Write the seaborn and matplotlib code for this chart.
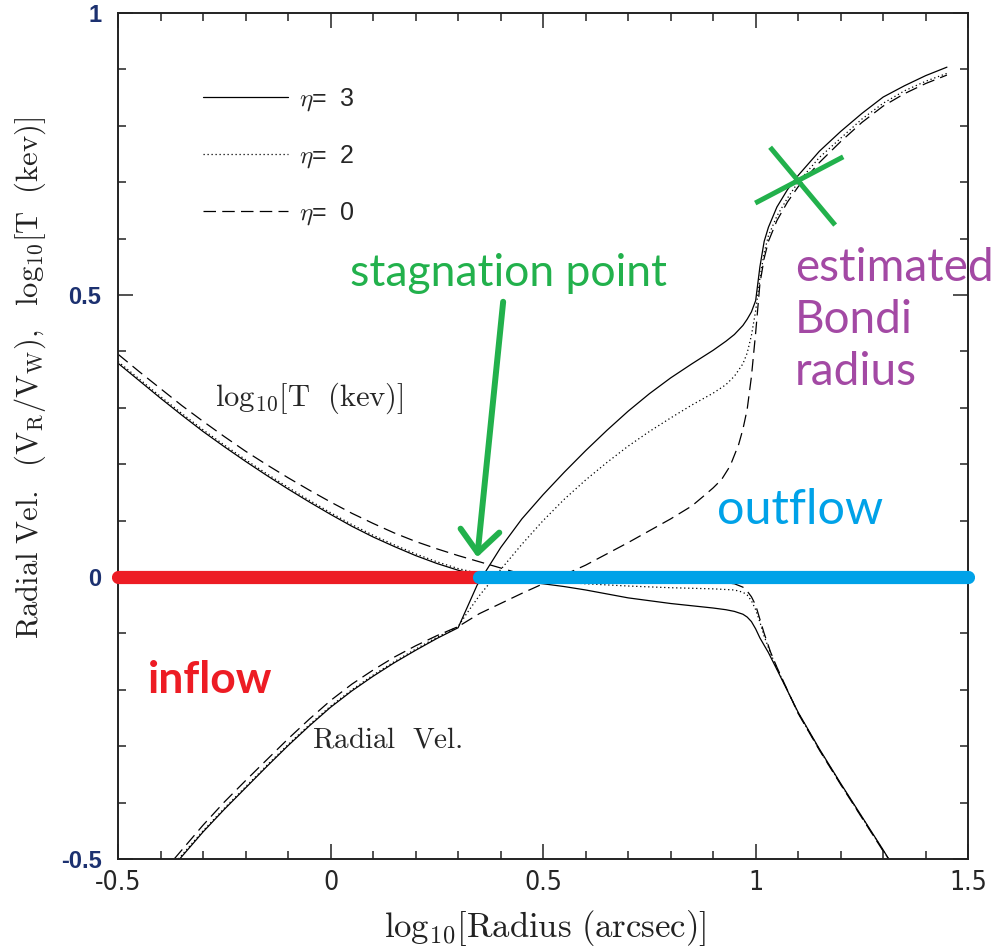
import matplotlib
matplotlib.use("Agg")
import matplotlib.pyplot as plt
import seaborn as sns

# ================= DATA =================
# log10 T curves
t_x_eta3 = [-0.5, -0.45, -0.4, -0.35, -0.3, -0.25, -0.2, -0.15, -0.1, -0.05, 0.0, 0.05, 0.1, 0.15, 0.2, 0.25, 0.3, 0.35, 0.4, 0.45, 0.5,
            0.55, 0.6, 0.65, 0.7, 0.75, 0.8, 0.85, 0.9, 0.93, 0.95, 0.97, 0.98, 0.99, 1.0, 1.01, 1.03, 1.05, 1.1, 1.15, 1.2, 1.25, 1.3, 1.313]
t_y_eta3 = [0.379, 0.348, 0.317, 0.287, 0.258, 0.231, 0.205, 0.180, 0.156, 0.133, 0.111, 0.090, 0.071, 0.054, 0.038, 0.024, 0.012, 0.003, -0.003, -0.008, -0.012,
            -0.017, -0.023, -0.030, -0.037, -0.042, -0.047, -0.051, -0.055, -0.058, -0.061, -0.066, -0.071, -0.079, -0.092, -0.108, -0.134, -0.164, -0.240, -0.305, -0.366, -0.425, -0.484, -0.50]

t_x_eta2 = [-0.5, -0.45, -0.4, -0.35, -0.3, -0.25, -0.2, -0.15, -0.1, -0.05, 0.0, 0.05, 0.1, 0.15, 0.2, 0.25, 0.3, 0.35, 0.4, 0.45, 0.5,
            0.6, 0.7, 0.8, 0.9, 0.95, 0.97, 0.98, 0.99, 1.0, 1.01, 1.02, 1.035, 1.05, 1.1, 1.15, 1.2, 1.25, 1.3, 1.313]
t_y_eta2 = [0.382, 0.351, 0.320, 0.290, 0.261, 0.234, 0.208, 0.183, 0.159, 0.136, 0.114, 0.093, 0.074, 0.057, 0.041, 0.027, 0.015, 0.006, 0.0, -0.004, -0.007,
            -0.012, -0.016, -0.019, -0.021, -0.023, -0.027, -0.032, -0.042, -0.058, -0.080, -0.105, -0.135, -0.162, -0.241, -0.306, -0.367, -0.426, -0.485, -0.50]

t_x_eta0 = [-0.5, -0.45, -0.4, -0.35, -0.3, -0.25, -0.2, -0.15, -0.1, -0.05, 0.0, 0.05, 0.1, 0.15, 0.2, 0.25, 0.3, 0.35, 0.4, 0.45, 0.5,
            0.55, 0.7, 0.9, 0.95, 0.97, 0.98, 0.99, 1.0, 1.01, 1.02, 1.035, 1.05, 1.1, 1.15, 1.2, 1.25, 1.3, 1.313]
t_y_eta0 = [0.395, 0.364, 0.334, 0.304, 0.276, 0.249, 0.223, 0.199, 0.176, 0.154, 0.133, 0.113, 0.095, 0.078, 0.063, 0.050, 0.038, 0.027, 0.016, 0.005, -0.004,
            -0.007, -0.007, -0.008, -0.012, -0.018, -0.025, -0.035, -0.050, -0.075, -0.100, -0.133, -0.160, -0.242, -0.307, -0.368, -0.427, -0.486, -0.50]

# radial velocity curves
v_x_eta3 = [-0.355, -0.3, -0.25, -0.2, -0.15, -0.1, -0.05, 0.0, 0.05, 0.1, 0.15, 0.2, 0.25, 0.3, 0.345, 0.37, 0.4, 0.45, 0.5, 0.55, 0.6, 0.65,
            0.7, 0.75, 0.8, 0.85, 0.9, 0.93, 0.95, 0.97, 0.98, 0.99, 1.0, 1.005, 1.01, 1.02, 1.03, 1.05, 1.075, 1.1, 1.15, 1.2, 1.25, 1.3, 1.35, 1.4, 1.45]
v_y_eta3 = [-0.5, -0.452, -0.412, -0.374, -0.336, -0.299, -0.264, -0.231, -0.202, -0.176, -0.152, -0.130, -0.109, -0.090, -0.014, 0.016, 0.052, 0.103, 0.146, 0.186, 0.224, 0.260,
            0.294, 0.325, 0.353, 0.378, 0.402, 0.418, 0.430, 0.446, 0.457, 0.470, 0.490, 0.520, 0.550, 0.595, 0.620, 0.656, 0.687, 0.712, 0.755, 0.790, 0.822, 0.851, 0.871, 0.889, 0.904]

v_x_eta2 = [-0.358, -0.3, -0.25, -0.2, -0.15, -0.1, -0.05, 0.0, 0.05, 0.1, 0.15, 0.2, 0.25, 0.3, 0.32, 0.35, 0.4, 0.45, 0.5, 0.55, 0.6, 0.65,
            0.7, 0.75, 0.8, 0.85, 0.9, 0.93, 0.95, 0.97, 0.98, 0.99, 1.0, 1.01, 1.02, 1.03, 1.05, 1.075, 1.1, 1.15, 1.2, 1.25, 1.3, 1.35, 1.4, 1.45]
v_y_eta2 = [-0.5, -0.450, -0.410, -0.372, -0.334, -0.297, -0.262, -0.229, -0.200, -0.174, -0.150, -0.128, -0.107, -0.088, -0.065, -0.033, 0.013, 0.058, 0.100, 0.138, 0.172, 0.203,
            0.232, 0.258, 0.282, 0.305, 0.326, 0.341, 0.356, 0.378, 0.397, 0.428, 0.472, 0.530, 0.575, 0.605, 0.640, 0.672, 0.700, 0.744, 0.778, 0.812, 0.840, 0.862, 0.879, 0.893]

v_x_eta0 = [-0.368, -0.3, -0.25, -0.2, -0.15, -0.1, -0.05, 0.0, 0.05, 0.1, 0.15, 0.2, 0.25, 0.3, 0.35, 0.4, 0.45, 0.5, 0.55, 0.6, 0.65, 0.7, 0.75,
            0.8, 0.85, 0.88, 0.9, 0.92, 0.94, 0.96, 0.97, 0.98, 0.99, 1.0, 1.01, 1.02, 1.03, 1.05, 1.075, 1.1, 1.15, 1.2, 1.25, 1.3, 1.35, 1.4, 1.45]
v_y_eta0 = [-0.5, -0.440, -0.399, -0.361, -0.324, -0.287, -0.252, -0.219, -0.190, -0.165, -0.142, -0.122, -0.104, -0.088, -0.065, -0.047, -0.029, -0.012, 0.004, 0.021, 0.041, 0.061, 0.082,
            0.103, 0.126, 0.145, 0.158, 0.173, 0.197, 0.235, 0.262, 0.297, 0.355, 0.433, 0.520, 0.565, 0.595, 0.632, 0.665, 0.692, 0.735, 0.772, 0.806, 0.835, 0.857, 0.875, 0.890]

# inflow / outflow segments along zero velocity
inflow_x = [-0.5, 0.35]
outflow_x = [0.35, 1.5]
zero_y = [0.0, 0.0]

xticks = [-0.5, 0.0, 0.5, 1.0, 1.5]
xtick_labels = ["-0.5", "0", "0.5", "1", "1.5"]
yticks = [-0.5, 0.0, 0.5, 1.0]
ytick_labels = ["-0.5", "0", "0.5", "1"]
legend_labels = [r"$\eta$=  3", r"$\eta$=  2", r"$\eta$=  0"]

# ================= STYLE =================
sns.set_style("ticks")
plt.rcParams["font.family"] = ["Liberation Sans", "DejaVu Sans"]
plt.rcParams["mathtext.fontset"] = "cm"

GREEN = "#22b14c"
PURPLE = "#a349a4"
RED = "#ed1c24"
BLUE = "#00a2e8"
NAVY = "#1c3170"
styles = {"eta3": "-", "eta2": (0, (1, 2.2)), "eta0": (0, (10, 5))}

fig = plt.figure(figsize=(9.92, 9.5), dpi=100)
ax = fig.add_axes([0.119, 0.0958, 0.857, 0.8905])

# ================= CURVES =================
lw = 0.9
sns.lineplot(x=v_x_eta3, y=v_y_eta3, ax=ax, color="k", lw=lw, linestyle=styles["eta3"], estimator=None, sort=False)
sns.lineplot(x=v_x_eta2, y=v_y_eta2, ax=ax, color="k", lw=lw, linestyle=styles["eta2"], estimator=None, sort=False)
sns.lineplot(x=v_x_eta0, y=v_y_eta0, ax=ax, color="k", lw=lw, linestyle=styles["eta0"], estimator=None, sort=False)
sns.lineplot(x=t_x_eta3, y=t_y_eta3, ax=ax, color="k", lw=lw, linestyle=styles["eta3"], estimator=None, sort=False)
sns.lineplot(x=t_x_eta2, y=t_y_eta2, ax=ax, color="k", lw=lw, linestyle=styles["eta2"], estimator=None, sort=False)
sns.lineplot(x=t_x_eta0, y=t_y_eta0, ax=ax, color="k", lw=lw, linestyle=styles["eta0"], estimator=None, sort=False)
handles = ax.get_lines()[:3]

# inflow / outflow bars
sns.lineplot(x=inflow_x, y=zero_y, ax=ax, color=RED, lw=9.5, solid_capstyle="round", clip_on=False, zorder=5)
sns.lineplot(x=outflow_x, y=zero_y, ax=ax, color=BLUE, lw=9.5, solid_capstyle="round", clip_on=False, zorder=6)

# ================= AXES =================
ax.set_xlim(-0.5, 1.5)
ax.set_ylim(-0.5, 1.0)
ax.set_xticks(xticks)
ax.set_xticklabels(xtick_labels, family="DejaVu Sans", fontstretch="condensed", fontsize=19)
ax.set_yticks(yticks)
ax.set_yticklabels(ytick_labels, fontsize=17, fontweight="bold", color=NAVY)
ax.set_xticks([v / 10 for v in range(-5, 16)], minor=True)
ax.set_yticks([v / 10 for v in range(-5, 11)], minor=True)
ax.tick_params(which="both", direction="in", top=True, right=True, width=1.1, color="#222222")
ax.tick_params(which="major", length=11)
ax.tick_params(which="minor", length=6)
ax.tick_params(axis="x", pad=8)
ax.tick_params(axis="y", pad=12)
for sp in ax.spines.values():
    sp.set_linewidth(1.4)
    sp.set_color("#222222")

ax.set_xlabel(r"$\mathrm{log_{10}[Radius\ (arcsec)]}$", fontsize=25, color="#222222")
ax.set_ylabel(r"$\mathrm{Radial\ Vel.\ \ (V_R/V_W),\ \ log_{10}[T\ \ (kev)]}$", fontsize=22, color="#222222")
ax.xaxis.set_label_coords(0.502, -0.058)
ax.yaxis.set_label_coords(-0.082, 0.569)

# ================= LABELS =================
ax.text(-0.272, 0.317, r"$\mathrm{log_{10}[T\ \ (kev)]}$", fontsize=22, va="center", ha="left")
ax.text(-0.044, -0.289, r"$\mathrm{Radial\ \ Vel.}$", fontsize=21, va="center", ha="left")

ax.legend(handles=handles, labels=legend_labels, loc="upper left", bbox_to_anchor=(0.1, 0.913),
          frameon=False, handlelength=3.4, handletextpad=0.45, labelspacing=1.2,
          borderpad=0, borderaxespad=0, prop={"size": 18})

ax.text(0.418, 0.539, "stagnation point", family=["Lato", "DejaVu Sans"], fontsize=32,
        color=GREEN, ha="center", va="center")
ax.annotate("", xy=(0.345, 0.035), xytext=(0.406, 0.488),
            arrowprops=dict(arrowstyle="->,head_length=0.8,head_width=0.7", mutation_scale=20,
                            lw=4.3, color=GREEN, shrinkA=0, shrinkB=0))

# Bondi radius cross
ax.plot([1.034, 1.187], [0.762, 0.624], color=GREEN, lw=3.6, solid_capstyle="butt")
ax.plot([0.999, 1.206], [0.663, 0.745], color=GREEN, lw=3.6, solid_capstyle="butt")
ax.text(1.093, 0.585, "estimated\nBondi\nradius", family=["Lato", "DejaVu Sans"], fontsize=33,
        color=PURPLE, ha="left", va="top", linespacing=1.3, clip_on=False)

ax.text(1.105, 0.119, "outflow", family=["Lato", "DejaVu Sans"], fontsize=35,
        color=BLUE, ha="center", va="center")
ax.text(-0.429, -0.183, "inflow", family=["Lato", "DejaVu Sans"], fontsize=32,
        fontweight="bold", color=RED, ha="left", va="center")

fig.savefig("out.png", dpi=100)
